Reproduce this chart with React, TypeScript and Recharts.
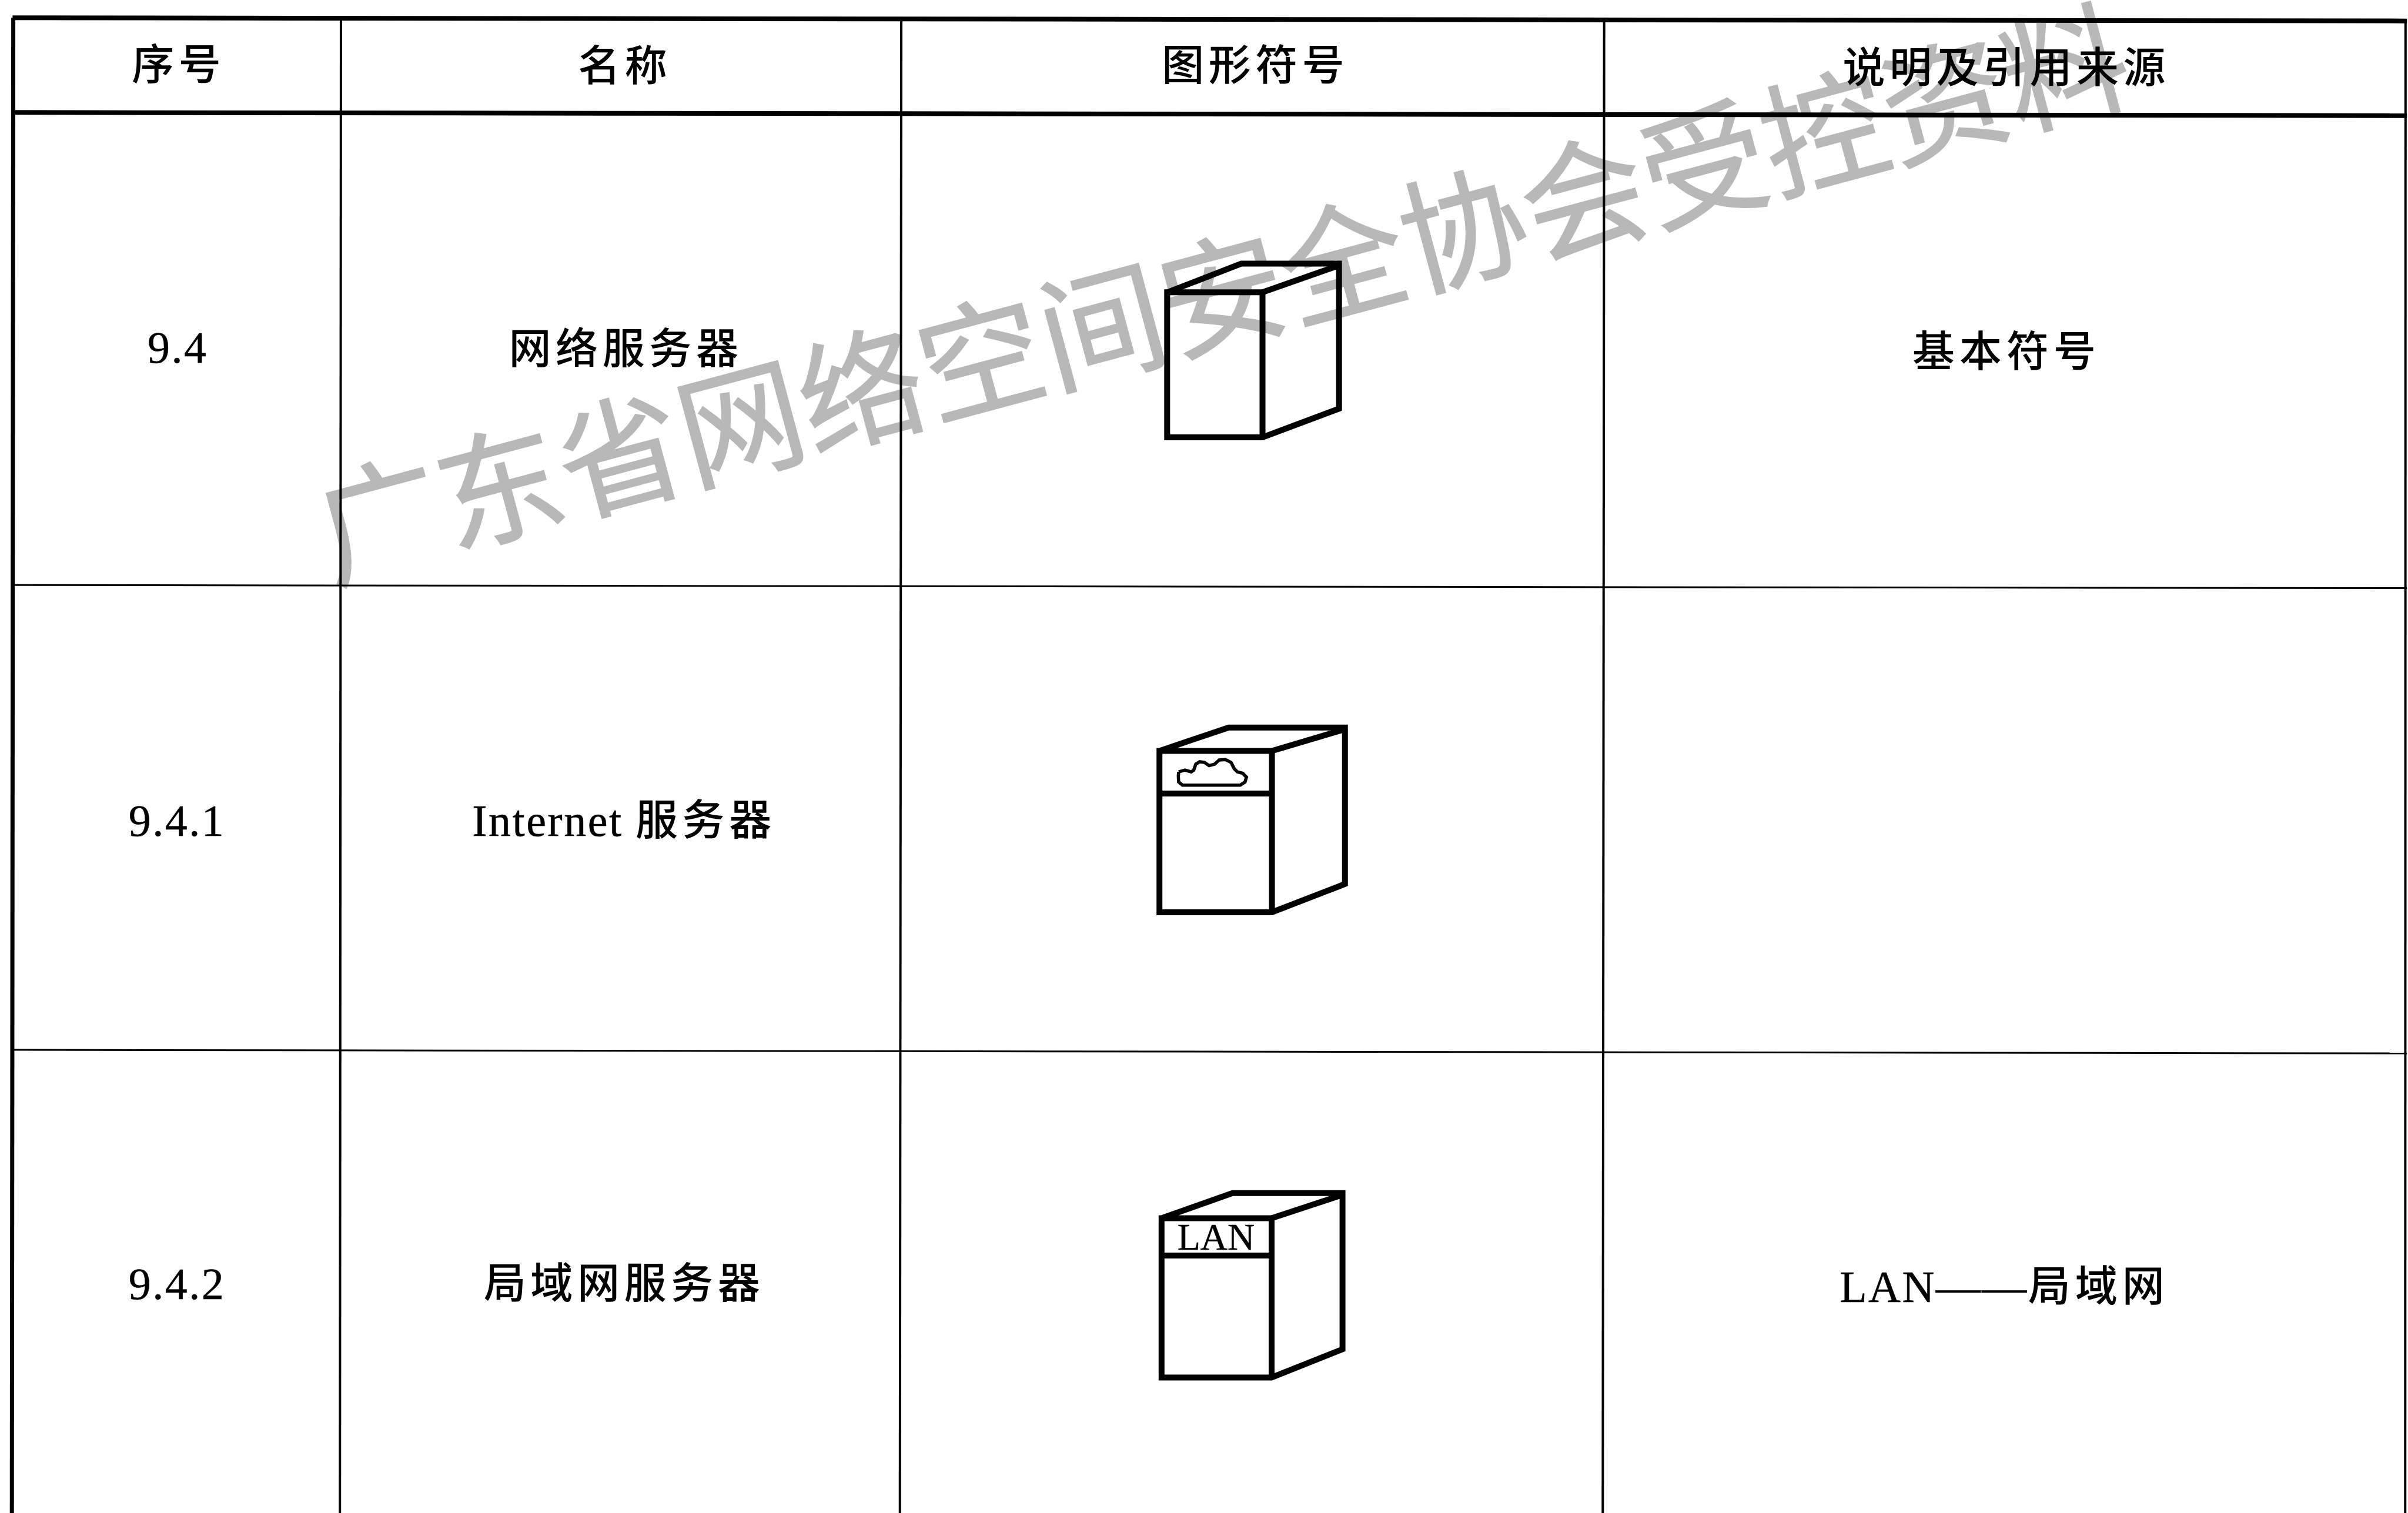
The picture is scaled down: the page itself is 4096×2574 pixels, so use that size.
import { ComposedChart, Line, Scatter, XAxis, YAxis } from 'recharts';

// everything is read in reference pixels (6893 x 4332), the axes scale it to the window
const FONT = '"Liberation Serif", "Noto Sans CJK SC", serif';

const headerLabels = ['序号', '名称', '图形符号', '说明及引用来源'];
const headerX = [505, 1782, 3587, 5737];
const headerY = [187, 190, 189, 195];

const serials = ['9.4', '9.4.1', '9.4.2'];
const serialX = [507, 505, 505];
const serialY = [995, 2349, 3676];

const names = ['网络服务器', 'Internet 服务器', '局域网服务器'];
const nameX = [1785, 1780, 1780];
const nameY = [999, 2349, 3676];

const notes = ['基本符号', 'LAN——局域网'];
const noteX = [5737, 5731];
const noteY = [1008, 3684];

const topRule = [{ x: 36, y: 51 }, { x: 6890, y: 60 }];
const headRule = [{ x: 36, y: 322 }, { x: 6890, y: 331 }];
const rowRules = [
  [{ x: 36, y: 1675 }, { x: 6890, y: 1684 }],
  [{ x: 36, y: 3006 }, { x: 6890, y: 3016 }],
];
const outerCols = [
  [{ x: 38, y: 51 }, { x: 34, y: 4332 }],
  [{ x: 6886, y: 60 }, { x: 6885, y: 4332 }],
];
const innerCols = [
  [{ x: 976, y: 51 }, { x: 973, y: 4332 }],
  [{ x: 2580, y: 51 }, { x: 2576, y: 4332 }],
  [{ x: 4592, y: 60 }, { x: 4588, y: 4332 }],
];

const box1 = [
  [{ x: 3341, y: 837 }, { x: 3553, y: 755 }, { x: 3833, y: 755 }, { x: 3833, y: 1170 }, { x: 3614, y: 1252 }, { x: 3341, y: 1252 }, { x: 3341, y: 837 }, { x: 3614, y: 837 }, { x: 3614, y: 1252 }],
  [{ x: 3614, y: 837 }, { x: 3833, y: 760 }],
];
const box2 = [
  [{ x: 3319, y: 2150 }, { x: 3517, y: 2083 }, { x: 3850, y: 2083 }, { x: 3850, y: 2531 }, { x: 3641, y: 2612 }, { x: 3319, y: 2612 }, { x: 3319, y: 2150 }, { x: 3641, y: 2150 }, { x: 3641, y: 2612 }],
  [{ x: 3641, y: 2150 }, { x: 3850, y: 2088 }],
  [{ x: 3319, y: 2272 }, { x: 3641, y: 2272 }],
];
const box3 = [
  [{ x: 3325, y: 3488 }, { x: 3528, y: 3416 }, { x: 3843, y: 3416 }, { x: 3843, y: 3863 }, { x: 3640, y: 3944 }, { x: 3325, y: 3944 }, { x: 3325, y: 3488 }, { x: 3640, y: 3488 }, { x: 3640, y: 3944 }],
  [{ x: 3640, y: 3488 }, { x: 3843, y: 3421 }],
  [{ x: 3325, y: 3595 }, { x: 3640, y: 3595 }],
];
const cloud = [
  { x: 3374, y: 2210 }, { x: 3392, y: 2205 }, { x: 3410, y: 2210 }, { x: 3417, y: 2205 }, { x: 3423, y: 2188 },
  { x: 3434, y: 2181 }, { x: 3448, y: 2183 }, { x: 3461, y: 2192 }, { x: 3477, y: 2188 }, { x: 3490, y: 2176 },
  { x: 3508, y: 2175 }, { x: 3524, y: 2183 }, { x: 3533, y: 2201 }, { x: 3542, y: 2210 }, { x: 3557, y: 2214 },
  { x: 3568, y: 2225 }, { x: 3564, y: 2239 }, { x: 3550, y: 2248 }, { x: 3385, y: 2248 }, { x: 3374, y: 2239 },
  { x: 3373, y: 2223 }, { x: 3374, y: 2210 },
];

const watermark = [{ x: 3493, y: 820, label: '广东省网络空间安全协会受控资料' }];
const boxCaption = [{ x: 3481, y: 3578, label: 'LAN' }];

const zip = (labels: string[], xs: number[], ys: number[]) =>
  labels.map((label, i) => ({ label, x: xs[i], y: ys[i] }));

// latin runs sit a bit larger and tighter than the CJK ones in the scan
const textShape = (fontSize: number, letterSpacing: number, fontWeight = 400) => (props: any) => {
  const runs: string[] = props.payload.label.split(/([A-Za-z0-9 .—]+)/).filter(Boolean);
  return (
    <text
      x={props.cx + letterSpacing / 2}
      y={props.cy}
      textAnchor="middle"
      dominantBaseline="central"
      fontFamily={FONT}
      fill="#000"
    >
      {runs.map((run, i) =>
        /^[A-Za-z0-9 .—]/.test(run) ? (
          <tspan key={i} fontSize={76} letterSpacing={2.5} stroke="#000" strokeWidth={0.5}>
            {run}
          </tspan>
        ) : (
          <tspan key={i} fontSize={fontSize} fontWeight={fontWeight} letterSpacing={letterSpacing}>
            {run}
          </tspan>
        ),
      )}
    </text>
  );
};

const watermarkShape = (props: any) => (
  <text
    x={props.cx}
    y={props.cy}
    textAnchor="middle"
    dominantBaseline="central"
    fontFamily='"Noto Sans CJK SC", sans-serif'
    fontSize={212}
    fontWeight={400}
    fill="#b8b8b8"
    stroke="#b8b8b8"
    strokeWidth={2}
    style={{ mixBlendMode: 'multiply' }}
    transform={`rotate(-15 ${props.cx} ${props.cy})`}
  >
    {props.payload.label}
  </text>
);

const captionShape = (props: any) => (
  <text x={props.cx} y={props.cy} textAnchor="middle" fontFamily={FONT} fontSize={64} stroke="#000" strokeWidth={0.5} fill="#000">
    {props.payload.label}
  </text>
);

function rule(points: { x: number; y: number }[], key: string, width: number) {
  return (
    <Line
      key={key}
      data={points}
      dataKey="y"
      stroke="#000"
      strokeWidth={width}
      strokeLinecap="butt"
      strokeLinejoin="miter"
      fill="none"
      dot={false}
      activeDot={false}
      legendType="none"
      isAnimationActive={false}
    />
  );
}

export default function App() {
  return (
    <div style={{ position: 'absolute', left: 0, top: 0, width: 4096, height: 2574, background: '#fff' }}>
      <ComposedChart width={4096} height={2574} margin={{ top: 0, right: 0, bottom: 0, left: 0 }}>
        <XAxis type="number" dataKey="x" domain={[0, 6893]} hide allowDataOverflow />
        <YAxis type="number" dataKey="y" domain={[0, 4332]} reversed hide allowDataOverflow />

        <Scatter data={watermark} shape={watermarkShape} zIndex={100} isAnimationActive={false} />

        {rule(topRule, 'top', 8)}
        {rule(headRule, 'head', 8)}
        {rowRules.map((r, i) => rule(r, `row${i}`, 3))}
        {outerCols.map((r, i) => rule(r, `outer${i}`, i === 0 ? 7 : 4))}
        {innerCols.map((r, i) => rule(r, `inner${i}`, 4))}

        {box1.map((r, i) => rule(r, `b1${i}`, 10))}
        {box2.map((r, i) => rule(r, `b2${i}`, 10))}
        {box3.map((r, i) => rule(r, `b3${i}`, 10))}
        {rule(cloud, 'cloud', 5.5)}

        <Scatter data={zip(headerLabels, headerX, headerY)} shape={textShape(72, 7.5, 500)} isAnimationActive={false} />
        <Scatter data={zip(serials, serialX, serialY)} shape={textShape(76, 2)} isAnimationActive={false} />
        <Scatter data={zip(names, nameX, nameY)} shape={textShape(72, 7.6, 500)} isAnimationActive={false} />
        <Scatter data={zip(notes, noteX, noteY)} shape={textShape(72, 8, 500)} isAnimationActive={false} />
        <Scatter data={boxCaption} shape={captionShape} isAnimationActive={false} />
      </ComposedChart>
    </div>
  );
}
